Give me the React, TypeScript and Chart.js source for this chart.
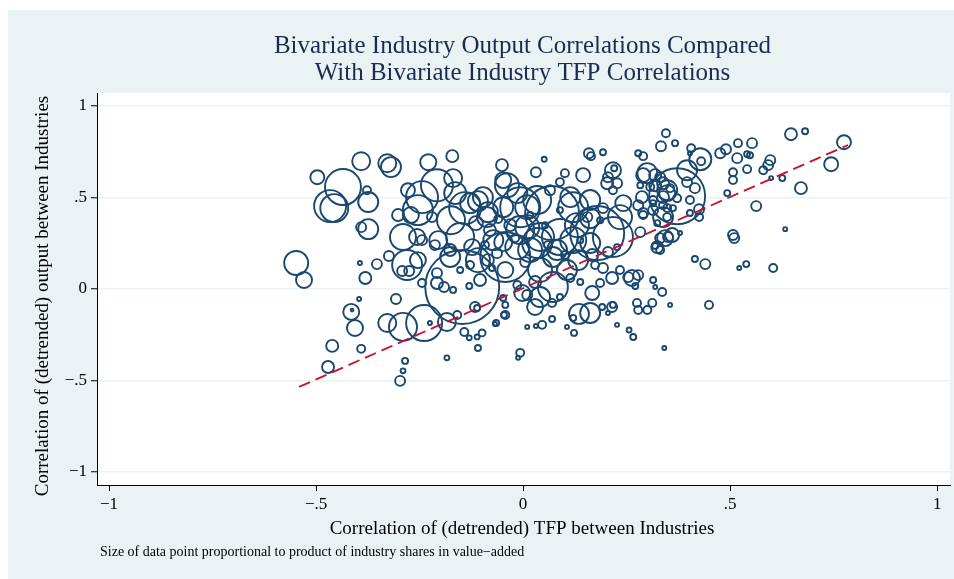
import React, { useEffect, useRef } from 'react';
import { Chart, registerables } from 'chart.js';

Chart.register(...registerables);

// Correlation of (detrended) TFP between industries (x)
const tfpCorr = [
  -0.548, -0.529, -0.497, -0.435, -0.466, -0.456, -0.391, -0.377, -0.374, -0.328,
  -0.319, -0.391, -0.374, -0.394, -0.381, -0.353, -0.324, -0.302, -0.278, -0.415,
  -0.413, -0.406, -0.328, -0.290, -0.239, -0.461, -0.471, -0.391, -0.396, -0.307,
  -0.285, -0.290, -0.297, -0.225, -0.184, -0.184, -0.142, -0.130, -0.111, -0.099,
  -0.109, -0.116, -0.111, -0.159, -0.229, -0.171, -0.169, -0.208, -0.164, -0.244,
  -0.254, -0.271, -0.220, -0.140, -0.290, -0.256, -0.244, -0.205, -0.213, -0.097,
  -0.176, -0.147, -0.208, -0.244, -0.191, -0.169, -0.130, -0.280, -0.292, -0.275,
  -0.254, -0.174, -0.114, -0.085, -0.048, 0.010, -0.152, -0.123, -0.072, -0.048,
  -0.014, -0.109, -0.085, -0.176, -0.063, -0.208, -0.043, -0.048, -0.043, -0.043,
  -0.002, -0.068, 0.010, -0.014, 0.051, 0.031, 0.101, 0.089, 0.145, 0.159,
  0.164, 0.193, 0.217, 0.220, 0.205, 0.203, 0.227, 0.217, 0.278, 0.290,
  0.300, 0.290, 0.319, 0.319, 0.338, 0.307, 0.283, 0.287, 0.338, 0.348,
  0.070, 0.034, -0.007, 0.114, 0.121, 0.162, 0.130, 0.179, 0.089, 0.041,
  0.082, 0.010, 0.234, 0.242, 0.278, 0.314, 0.283, 0.324, 0.331, 0.350,
  0.324, 0.133, 0.205, 0.227, 0.155, 0.193, 0.162, 0.162, 0.217, 0.034,
  0.072, 0.121, 0.041, 0.106, 0.072, 0.041, 0.010, 0.029, 0.070, 0.089,
  0.114, 0.138, 0.167, 0.186, 0.215, 0.167, 0.193, 0.234, 0.263, 0.278,
  0.271, 0.254, 0.314, 0.319, 0.336, 0.314, 0.338, 0.348, 0.135, 0.162,
  0.215, 0.217, 0.191, 0.121, 0.205, 0.275, 0.312, 0.278, 0.300, 0.227,
  0.256, 0.046, 0.290, 0.331, 0.123, 0.106, 0.070, 0.031, -0.007, -0.012,
  -0.065, -0.046, 0.266, 0.341, 0.355, 0.345, 0.333, 0.367, 0.406, 0.403,
  0.428, 0.430, 0.476, 0.490, 0.519, 0.553, 0.517, 0.541, 0.548, 0.647,
  0.681, 0.775, 0.744, 0.597, 0.592, 0.580, 0.541, 0.507, 0.507, 0.599,
  0.626, 0.671, 0.493, 0.563, 0.633, 0.507, 0.510, 0.440, 0.415, 0.539,
  0.522, 0.604, 0.372, 0.396, 0.396, 0.415, 0.355, 0.348, 0.372, 0.403,
  0.348, 0.362, 0.338, 0.425, 0.425, 0.403, 0.314, 0.331, 0.290, 0.343,
  0.360, 0.379, 0.319, 0.449, -0.051, -0.039, -0.014, -0.128, -0.087, -0.007,
  0.017, -0.043, -0.080, -0.031, -0.060, -0.019, 0.005, 0.029, -0.104, -0.109,
  -0.048, 0.065, 0.053, 0.089, 0.138, 0.186, 0.017, 0.060, 0.101, 0.174,
  -0.092, -0.128, -0.152, -0.075,
];

// Correlation of (detrended) output between industries (y)
const outputCorr = [
  0.142, 0.049, 0.611, 0.557, 0.453, 0.442, 0.698, 0.540, 0.475, 0.687,
  0.666, 0.338, 0.327, 0.142, 0.060, 0.136, 0.180, 0.404, 0.540, -0.125,
  -0.115, -0.213, -0.186, -0.207, -0.186, -0.311, -0.426, -0.327, -0.055, -0.055,
  -0.393, -0.447, -0.502, -0.186, -0.180, -0.376, -0.235, -0.267, -0.262, -0.240,
  -0.322, -0.098, -0.104, -0.142, 0.693, 0.726, 0.606, 0.567, 0.524, 0.502,
  0.431, 0.404, 0.393, 0.442, 0.284, 0.284, 0.267, 0.267, 0.240, 0.502,
  0.213, 0.011, 0.033, 0.033, 0.011, -0.005, 0.016, 0.131, 0.098, 0.098,
  0.158, 0.376, 0.360, 0.420, 0.447, 0.447, 0.284, 0.229, 0.267, 0.256,
  0.229, 0.158, 0.158, 0.175, 0.196, 0.087, 0.175, -0.049, -0.087, -0.142,
  -0.022, -0.191, -0.207, 0.022, 0.709, 0.638, 0.633, 0.584, 0.622, 0.742,
  0.726, 0.747, 0.649, 0.660, 0.611, 0.578, 0.578, 0.540, 0.742, 0.726,
  0.633, 0.622, 0.622, 0.567, 0.578, 0.557, 0.567, 0.502, 0.502, 0.540,
  0.415, 0.486, 0.447, 0.502, 0.447, 0.486, 0.349, 0.306, 0.284, 0.284,
  0.213, 0.338, 0.393, 0.469, 0.458, 0.431, 0.311, 0.229, 0.278, 0.284,
  0.360, 0.158, 0.202, 0.229, 0.393, 0.442, 0.387, 0.251, 0.284, 0.251,
  0.175, 0.267, 0.104, 0.104, 0.011, -0.044, -0.033, -0.098, -0.076, -0.044,
  0.060, 0.038, 0.186, 0.033, 0.060, -0.022, 0.115, 0.104, 0.060, 0.076,
  0.016, 0.065, 0.049, 0.011, -0.016, 0.469, 0.458, 0.393, -0.136, -0.131,
  -0.098, -0.087, -0.098, -0.158, -0.131, -0.076, -0.076, -0.115, -0.115, -0.196,
  -0.224, -0.196, 0.404, 0.213, -0.240, -0.207, -0.164, -0.202, -0.349, -0.376,
  -0.186, -0.142, -0.262, -0.322, -0.087, 0.851, 0.780, 0.797, 0.769, 0.742,
  0.709, 0.698, 0.742, 0.764, 0.797, 0.797, 0.715, 0.737, 0.731, 0.846,
  0.862, 0.802, 0.682, 0.704, 0.677, 0.649, 0.655, 0.638, 0.595, 0.606,
  0.606, 0.551, 0.524, 0.453, 0.327, 0.295, 0.278, 0.136, 0.164, 0.136,
  0.115, 0.115, 0.507, 0.649, 0.584, 0.551, 0.551, 0.524, 0.496, 0.486,
  0.442, 0.442, 0.393, 0.436, 0.393, 0.415, 0.486, 0.611, 0.415, 0.278,
  0.295, 0.306, 0.235, -0.087, 0.677, 0.567, 0.524, 0.469, 0.393, 0.322,
  0.213, 0.104, 0.322, 0.349, 0.382, 0.278, 0.147, 0.038, 0.049, 0.480,
  0.595, 0.540, 0.349, 0.431, 0.267, 0.376, 0.404, 0.240, 0.186, 0.131,
  0.240, 0.131, 0.104, 0.115,
];

// Product of industry shares in value-added (relative units; marker area)
const shareProduct = [
  1.44, 0.64, 0.49, 3.24, 2.56, 1.96, 0.81, 0.16, 1.0, 0.81,
  1.0, 0.25, 1.0, 0.04, 0.36, 0.25, 0.25, 0.36, 0.49, 0.64,
  0.02, 0.64, 0.81, 1.96, 3.24, 0.36, 0.36, 0.16, 0.04, 0.25,
  0.09, 0.06, 0.25, 0.04, 0.81, 0.06, 0.16, 0.06, 0.06, 0.12,
  0.09, 0.25, 0.09, 0.16, 0.64, 0.36, 0.81, 2.56, 1.21, 2.56,
  2.25, 0.64, 0.25, 2.56, 1.69, 0.64, 0.25, 0.81, 0.25, 1.0,
  0.36, 13.69, 0.36, 0.16, 0.25, 0.09, 0.09, 2.25, 0.25, 0.25,
  0.64, 1.96, 0.49, 1.0, 1.0, 1.44, 1.96, 0.64, 1.0, 0.81,
  1.44, 1.44, 0.36, 1.0, 0.25, 0.25, 6.25, 0.09, 0.09, 0.16,
  0.64, 0.04, 0.04, 0.16, 0.06, 0.25, 0.16, 0.16, 0.49, 0.25,
  0.16, 0.09, 0.64, 0.09, 0.25, 0.36, 0.25, 0.16, 0.09, 0.16,
  1.0, 0.49, 0.36, 0.36, 0.36, 0.16, 0.09, 0.36, 0.36, 1.0,
  7.29, 1.96, 4.0, 1.0, 2.25, 1.0, 1.44, 7.29, 3.24, 1.96,
  1.0, 1.44, 1.44, 0.64, 0.25, 0.25, 0.25, 0.36, 0.25, 0.25,
  0.09, 1.0, 0.25, 0.09, 0.25, 0.25, 1.0, 1.0, 4.0, 2.25,
  1.0, 1.69, 1.44, 1.0, 2.25, 1.0, 0.25, 0.64, 0.16, 0.09,
  0.16, 0.09, 0.36, 0.16, 0.36, 0.49, 0.25, 0.16, 0.64, 0.25,
  0.09, 0.25, 0.09, 0.04, 0.16, 0.09, 0.16, 0.16, 1.0, 1.0,
  0.25, 0.09, 0.09, 0.09, 0.04, 0.16, 0.16, 0.16, 0.16, 0.04,
  0.06, 0.16, 0.16, 0.16, 0.09, 0.04, 0.09, 0.04, 0.16, 0.04,
  0.09, 0.09, 0.09, 0.04, 0.04, 0.16, 0.25, 0.09, 0.16, 0.04,
  1.21, 0.16, 0.25, 0.25, 0.16, 0.25, 0.25, 0.09, 0.09, 0.36,
  0.09, 0.49, 0.49, 0.25, 0.25, 0.16, 0.16, 0.16, 0.16, 0.04,
  0.09, 0.36, 0.09, 0.25, 0.04, 0.25, 0.25, 0.25, 0.09, 0.09,
  0.04, 0.16, 7.84, 1.0, 0.25, 0.25, 0.16, 0.64, 0.16, 0.16,
  0.16, 0.09, 1.0, 0.25, 0.16, 0.09, 0.16, 0.25, 0.25, 0.64,
  0.49, 0.04, 0.09, 0.16, 0.36, 1.44, 1.0, 1.0, 1.0, 1.96,
  1.44, 0.64, 0.36, 0.36, 0.16, 0.16, 0.25, 0.36, 0.36, 1.0,
  0.64, 0.25, 0.09, 0.09, 0.09, 0.09, 0.09, 0.16, 0.16, 0.16,
  0.16, 0.16, 0.09, 0.09,
];

// Fitted line (endpoints at the range of the TFP correlations)
const fitX = [-0.541, 0.785];
const fitY = [-0.535, 0.787];

const axisTicks = [-1, -0.5, 0, 0.5, 1];
const tickLabels = ['\u22121', '\u2212.5', '0', '.5', '1'];

const titleLines = [
  'Bivariate Industry Output Correlations Compared',
  'With Bivariate Industry TFP Correlations',
];
const xTitle = 'Correlation of (detrended) TFP between Industries';
const yTitle = 'Correlation of (detrended) output between Industries';
const noteText = 'Size of data point proportional to product of industry shares in value\u2212added';

const SERIF = '"Liberation Serif", "DejaVu Serif", serif';
const NAVY = '#1a476f';
const BG = '#EAF2F3';

export default function App() {
  const ref = useRef<HTMLCanvasElement>(null);

  useEffect(() => {
    const canvas = ref.current;
    if (!canvas) return;

    const bubbles = tfpCorr.map((x, i) => ({
      x,
      y: outputCorr[i],
      r: 10 * Math.sqrt(shareProduct[i]),
    }));
    const fit = fitX.map((x, i) => ({ x, y: fitY[i] }));

    const decor = {
      id: 'decor',
      beforeDraw(chart: any) {
        const { ctx, chartArea: a, width, height } = chart;
        ctx.save();
        ctx.fillStyle = BG;
        ctx.fillRect(0, 0, width, height);
        ctx.fillStyle = '#ffffff';
        ctx.fillRect(a.left, a.top, a.right - a.left, a.bottom - a.top);
        ctx.restore();
      },
      afterDraw(chart: any) {
        const { ctx } = chart;
        ctx.save();
        ctx.textAlign = 'center';
        ctx.textBaseline = 'alphabetic';
        ctx.fillStyle = '#1c2b50';
        ctx.font = `25px ${SERIF}`;
        ctx.fillText(titleLines[0], 514.5, 43);
        ctx.fillText(titleLines[1], 514.5, 70);

        ctx.fillStyle = '#000000';
        ctx.font = `19px ${SERIF}`;
        ctx.fillText(xTitle, 514, 524);

        ctx.save();
        ctx.translate(40, 286);
        ctx.rotate(-Math.PI / 2);
        ctx.fillText(yTitle, 0, 0);
        ctx.restore();

        ctx.textAlign = 'left';
        ctx.font = `14px ${SERIF}`;
        ctx.fillText(noteText, 92, 546);
        ctx.restore();
      },
    };

    const tickFont = { family: SERIF, size: 17 };

    const chart = new Chart(canvas, {
      type: 'bubble',
      data: {
        datasets: [
          {
            type: 'line',
            data: fit,
            borderColor: '#c8102e',
            borderWidth: 1.8,
            borderDash: [12, 6],
            pointRadius: 0,
            fill: false,
            order: 0,
          } as any,
          {
            type: 'bubble',
            data: bubbles,
            borderColor: NAVY,
            backgroundColor: 'rgba(0,0,0,0)',
            borderWidth: 1.9,
            order: 1,
          } as any,
        ],
      },
      options: {
        animation: false,
        responsive: false,
        devicePixelRatio: 1,
        layout: { autoPadding: false, padding: { left: 29, right: 4, top: 83, bottom: 54 } },
        plugins: {
          legend: { display: false },
          tooltip: { enabled: false },
          title: { display: false },
        },
        scales: {
          x: {
            type: 'linear',
            min: -1.029,
            max: 1.031,
            afterBuildTicks: (s: any) => {
              s.ticks = axisTicks.map((v) => ({ value: v }));
            },
            afterFit: (s: any) => {
              s.height = 40;
            },
            ticks: {
              autoSkip: false,
              maxRotation: 0,
              color: '#000',
              font: tickFont,
              padding: 3,
              callback: (v: any) => {
                const i = axisTicks.indexOf(Number(v));
                return i >= 0 ? tickLabels[i] : '';
              },
            },
            grid: {
              drawOnChartArea: false,
              drawTicks: true,
              tickLength: 6,
              tickColor: '#000',
              tickWidth: 1,
            },
            border: { display: true, color: '#000', width: 1 },
          },
          y: {
            type: 'linear',
            min: -1.071,
            max: 1.071,
            afterBuildTicks: (s: any) => {
              s.ticks = axisTicks.map((v) => ({ value: v }));
            },
            afterFit: (s: any) => {
              s.width = 60;
            },
            ticks: {
              color: '#000',
              font: tickFont,
              padding: 4,
              callback: (v: any) => {
                const i = axisTicks.indexOf(Number(v));
                return i >= 0 ? tickLabels[i] : '';
              },
            },
            grid: {
              color: BG,
              lineWidth: 1.5,
              drawTicks: true,
              tickLength: 6,
              tickColor: '#000',
              tickWidth: 1,
            },
            border: { display: true, color: '#000', width: 1 },
          },
        },
      } as any,
      plugins: [decor],
    });

    return () => chart.destroy();
  }, []);

  return (
    <canvas
      ref={ref}
      width={946}
      height={569}
      style={{ position: 'fixed', left: 8, top: 10, width: 946, height: 569, display: 'block' }}
    />
  );
}
